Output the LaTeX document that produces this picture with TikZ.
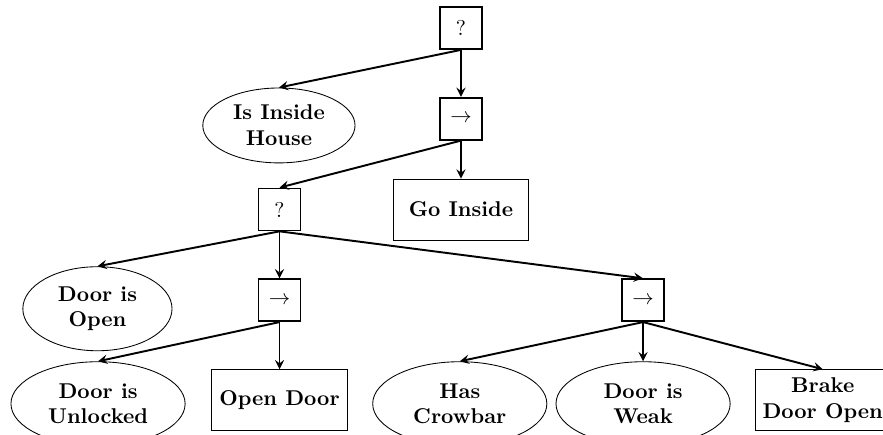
\documentclass[tikz,border=0pt]{standalone}
\usepackage{amsmath}
\usepackage{tikz}
\usetikzlibrary{shapes.geometric}

\begin{document}
\begin{tikzpicture}[>=stealth, every node/.style={font=\small},
    ctrl/.style={draw, thick, rectangle, minimum size=0.69cm, inner sep=0pt, font=\normalsize},
    act/.style={draw, rectangle, minimum width=2.23cm, minimum height=1cm, align=center, font=\normalsize\bfseries},
    cond/.style={draw, ellipse, minimum width=2.86cm, minimum height=1.38cm, inner sep=1pt, align=center, font=\normalsize\bfseries},
    link/.style={->, line width=0.9pt}]
                \useasboundingbox (0,0) rectangle (14.50,-7.14);

                \node[ctrl] (root) at (7.57,-0.46) {?};
                \node[cond, minimum width=2.50cm, minimum height=1.23cm] (inside) at (4.58,-2.06) {Is Inside\\House};
                \node[ctrl] (seqA) at (7.57,-1.95) {$\rightarrow$};
                \node[ctrl] (fallB) at (4.59,-3.44) {?};
                \node[act] (goin) at (7.57,-3.44) {Go Inside};

                \node[cond, minimum width=2.45cm] (open) at (1.60,-5.07) {Door is\\Open};
                \node[ctrl] (seqB) at (4.59,-4.93) {$\rightarrow$};
                \node[ctrl] (seqC) at (10.56,-4.93) {$\rightarrow$};

                \node[cond] (unlocked) at (1.61,-6.63) {Door is\\Unlocked};
                \node[act] (opendoor) at (4.59,-6.57) {Open Door};
                \node[cond] (crowbar) at (7.55,-6.63) {Has\\Crowbar};
                \node[cond] (weak) at (10.56,-6.63) {Door is\\Weak};
                \node[act, minimum width=2.17cm] (brake) at (13.51,-6.57) {Brake\\Door Open};

                \draw[link] (root.south) -- (inside.north);
                \draw[link] (root.south) -- (seqA.north);

                \draw[link] (seqA.south) -- (fallB.north);
                \draw[link] (seqA.south) -- (goin.north);

                \draw[link] (fallB.south) -- (open.north);
                \draw[link] (fallB.south) -- (seqB.north);
                \draw[link] (fallB.south) -- (seqC.north);

                \draw[link] (seqB.south) -- (unlocked.north);
                \draw[link] (seqB.south) -- (opendoor.north);

                \draw[link] (seqC.south) -- (crowbar.north);
                \draw[link] (seqC.south) -- (weak.north);
                \draw[link] (seqC.south) -- (brake.north);
            \end{tikzpicture}
\end{document}
